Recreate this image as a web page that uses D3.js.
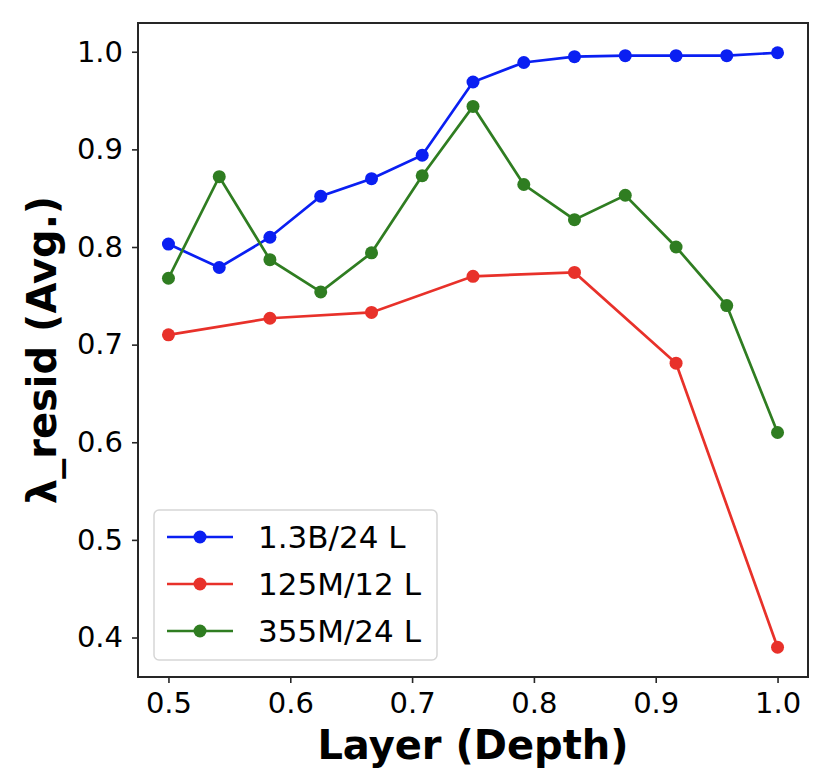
<!DOCTYPE html>
<html lang="en">
<head>
    <meta charset="UTF-8">
    <title>λ_resid by layer depth</title>
    <script src="https://d3js.org/d3.v7.min.js"></script>
    <style>
        body { margin: 0; background: #fff; }
        svg { display: block; font-family: "DejaVu Sans", sans-serif; }
    </style>
</head>
<body>
    <svg width="838" height="772"></svg>

    <script>
        // data
        const depth24 = [0.5, 0.5417, 0.5833, 0.625, 0.6667, 0.7083, 0.75, 0.7917, 0.8333, 0.875, 0.9167, 0.9583, 1.0];
        const depth12 = [0.5, 0.5833, 0.6667, 0.75, 0.8333, 0.9167, 1.0];

        const resid13B = [0.803, 0.779, 0.810, 0.852, 0.870, 0.894, 0.969, 0.989, 0.995, 0.996, 0.996, 0.996, 0.999];
        const resid125M = [0.710, 0.727, 0.733, 0.770, 0.774, 0.681, 0.390];
        const resid355M = [0.768, 0.872, 0.787, 0.754, 0.794, 0.873, 0.944, 0.864, 0.828, 0.853, 0.800, 0.740, 0.610];

        const seriesNames = ["1.3B/24 L", "125M/12 L", "355M/24 L"];
        const seriesColors = ["#0a1ff2", "#e8312a", "#2f7d21"];

        const xTicks = [0.5, 0.6, 0.7, 0.8, 0.9, 1.0];
        const yTicks = [0.4, 0.5, 0.6, 0.7, 0.8, 0.9, 1.0];

        const series = [
            { name: seriesNames[0], color: seriesColors[0], x: depth24, y: resid13B },
            { name: seriesNames[1], color: seriesColors[1], x: depth12, y: resid125M },
            { name: seriesNames[2], color: seriesColors[2], x: depth24, y: resid355M }
        ];

        const svg = d3.select("svg");
        const margin = { left: 138, right: 30, top: 23, bottom: 95 };
        const width = +svg.attr("width");
        const height = +svg.attr("height");

        // matplotlib style 5% padding
        const xMin = 0.5, xMax = 1.0;
        const allY = resid13B.concat(resid125M, resid355M);
        const yMin = d3.min(allY), yMax = d3.max(allY);
        const xPad = (xMax - xMin) * 0.05, yPad = (yMax - yMin) * 0.05;

        const x = d3.scaleLinear()
            .domain([xMin - xPad, xMax + xPad])
            .range([margin.left, width - margin.right]);
        const y = d3.scaleLinear()
            .domain([yMin - yPad, yMax + yPad])
            .range([height - margin.bottom, margin.top]);

        const xAxis = svg.append("g")
            .attr("transform", `translate(0,${height - margin.bottom})`)
            .call(d3.axisBottom(x).tickValues(xTicks).tickFormat(d3.format(".1f")).tickSize(6).tickPadding(9));
        const yAxis = svg.append("g")
            .attr("transform", `translate(${margin.left},0)`)
            .call(d3.axisLeft(y).tickValues(yTicks).tickFormat(d3.format(".1f")).tickSize(6).tickPadding(9));
        [xAxis, yAxis].forEach(g => {
            g.select(".domain").remove();
            g.attr("font-family", null).attr("font-size", null);
            g.selectAll(".tick line").attr("stroke", "#262626").attr("stroke-width", 1.6);
            g.selectAll(".tick text").attr("font-size", 29).attr("fill", "#000");
        });

        // frame
        svg.append("rect")
            .attr("x", margin.left)
            .attr("y", margin.top)
            .attr("width", width - margin.left - margin.right)
            .attr("height", height - margin.top - margin.bottom)
            .attr("fill", "none")
            .attr("stroke", "#262626")
            .attr("stroke-width", 2);

        const line = d3.line();

        series.forEach(s => {
            const pts = s.x.map((d, i) => [x(d), y(s.y[i])]);
            svg.append("path")
                .attr("d", line(pts))
                .attr("fill", "none")
                .attr("stroke", s.color)
                .attr("stroke-width", 2.7);
            svg.append("g").selectAll("circle")
                .data(pts)
                .join("circle")
                .attr("cx", d => d[0])
                .attr("cy", d => d[1])
                .attr("r", 6.5)
                .attr("fill", s.color);
        });

        // axis titles
        svg.append("text")
            .attr("x", (margin.left + width - margin.right) / 2)
            .attr("y", 759)
            .attr("text-anchor", "middle")
            .attr("font-size", 40)
            .attr("font-weight", "bold")
            .text("Layer (Depth)");
        svg.append("text")
            .attr("transform", `translate(56,${(margin.top + height - margin.bottom) / 2}) rotate(-90)`)
            .attr("text-anchor", "middle")
            .attr("font-size", 40)
            .attr("font-weight", "bold")
            .text("λ_resid (Avg.)");

        // legend
        const legend = svg.append("g").attr("transform", "translate(154,510)");
        legend.append("rect")
            .attr("width", 283)
            .attr("height", 150)
            .attr("rx", 5)
            .attr("fill", "#fff")
            .attr("fill-opacity", 0.8)
            .attr("stroke", "#d6d6d6")
            .attr("stroke-width", 1.5);
        series.forEach((s, i) => {
            const row = legend.append("g").attr("transform", `translate(0,${27 + i * 47})`);
            row.append("line")
                .attr("x1", 13).attr("x2", 79)
                .attr("stroke", s.color)
                .attr("stroke-width", 2.7);
            row.append("circle")
                .attr("cx", 46)
                .attr("r", 6.5)
                .attr("fill", s.color);
            row.append("text")
                .attr("x", 104)
                .attr("dy", "0.35em")
                .attr("font-size", 31)
                .text(s.name);
        });
    </script>
</body>
</html>
